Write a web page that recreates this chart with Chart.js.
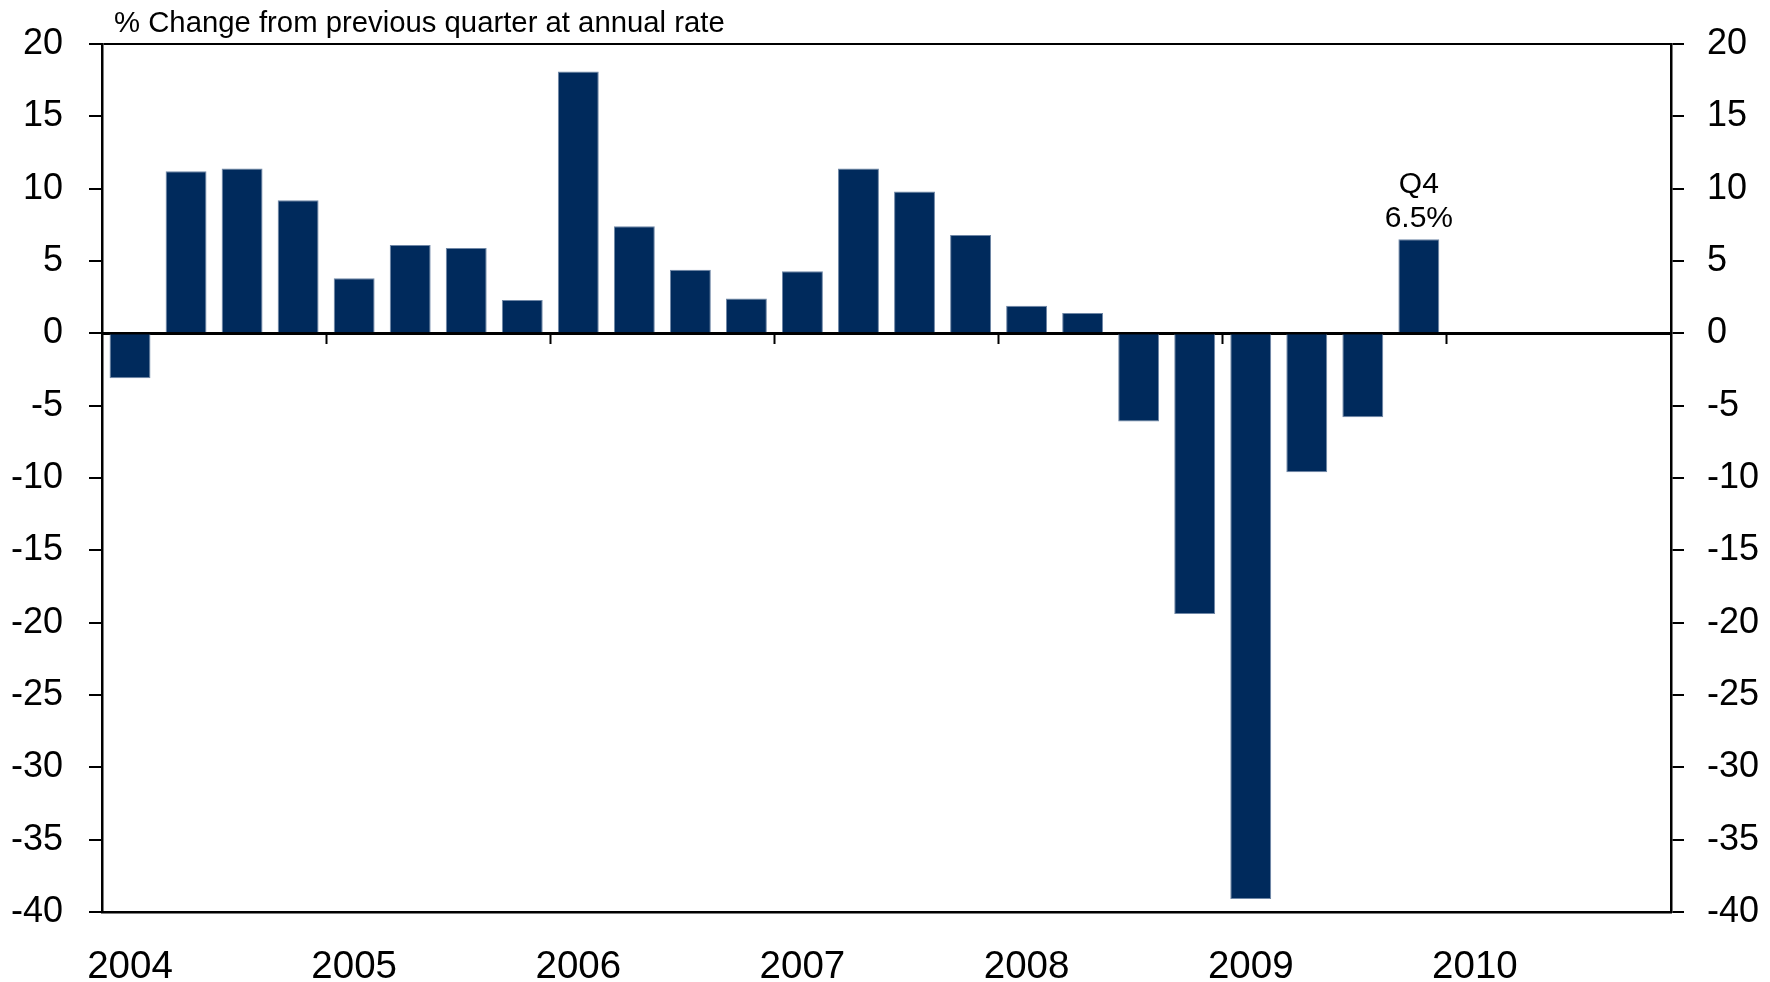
<!DOCTYPE html>
<html lang="en">
<head>
<meta charset="UTF-8">
<title>Quarterly % change</title>
<style>
    html, body { margin: 0; padding: 0; background: #fff; }
    #wrap { width: 1770px; height: 982px; position: relative; }
</style>
</head>
<body>

<div id="wrap">
    <canvas id="chart" width="1770" height="982"></canvas>
</div>

<script src="https://cdn.jsdelivr.net/npm/chart.js"></script>

<script>
    // data
    const years = ['2004', '2005', '2006', '2007', '2008', '2009', '2010'];
    const quarters = ['Q1', 'Q2', 'Q3', 'Q4'];
    const changes = [
        -3.1, 11.2, 11.4, 9.2,
        3.8, 6.1, 5.9, 2.3,
        18.1, 7.4, 4.4, 2.4,
        4.3, 11.4, 9.8, 6.8,
        1.9, 1.4, -6.1, -19.4,
        -39.1, -9.6, -5.8, 6.5
    ];
    const yTicks = [20, 15, 10, 5, 0, -5, -10, -15, -20, -25, -30, -35, -40];
    const titleText = '% Change from previous quarter at annual rate';
    const noteLines = ['Q4', '6.5%'];

    const categories = [];
    years.forEach(y => quarters.forEach(q => categories.push(y + ' ' + q)));
    // the axis runs to the end of 2010, no data there yet
    const values = categories.map((c, i) => i < changes.length ? changes[i] : null);

    const font = "'Liberation Sans', Arial, sans-serif";
    const navy = '#002a5c';
    const clear = 'rgba(0,0,0,0)';

    const textPlugin = {
        id: 'textPlugin',
        afterDatasetsDraw(chart) {
            const ctx = chart.ctx;
            const area = chart.chartArea;
            ctx.save();
            ctx.fillStyle = '#000';
            ctx.font = '29.3px ' + font;
            ctx.textAlign = 'left';
            ctx.textBaseline = 'alphabetic';
            ctx.fillText(titleText, area.left + 12, 32);

            // label above the latest bar
            const meta = chart.getDatasetMeta(0);
            const last = changes.length - 1;
            const bar = meta.data[last];
            ctx.font = '30px ' + font;
            ctx.textAlign = 'center';
            ctx.fillText(noteLines[0], bar.x, bar.y - 46);
            ctx.fillText(noteLines[1], bar.x, bar.y - 12);
            ctx.restore();
        }
    };

    function yAxis(side, width, pad) {
        return {
            type: 'linear',
            position: side,
            min: -40,
            max: 20,
            afterBuildTicks: s => { s.ticks = yTicks.map(v => ({ value: v })); },
            afterFit: s => {
                s.width = width;
                // label padding should not push the plot area down
                s.paddingTop = 0;
                s.paddingBottom = 0;
            },
            ticks: {
                color: '#000',
                padding: pad,
                font: { family: font, size: 36 }
            },
            grid: {
                drawOnChartArea: side === 'left',
                color: c => (c.tick && c.tick.value === 20) ? '#000' : clear,
                lineWidth: 2,
                tickColor: '#000',
                tickWidth: 2,
                tickLength: 13
            },
            border: { display: true, color: '#000', width: 2.5 }
        };
    }

    new Chart(document.getElementById('chart'), {
        type: 'bar',
        data: {
            labels: categories,
            datasets: [{
                data: values,
                xAxisID: 'x',
                yAxisID: 'y',
                backgroundColor: navy,
                borderColor: '#6f87a6',
                borderWidth: 1,
                barPercentage: 0.73,
                categoryPercentage: 1
            }]
        },
        options: {
            responsive: false,
            animation: false,
            layout: { padding: { top: 44, left: 0, right: 0, bottom: 0 } },
            plugins: {
                legend: { display: false },
                tooltip: { enabled: false }
            },
            scales: {
                x: {
                    type: 'category',
                    position: 'bottom',
                    afterFit: s => { s.height = 70; },
                    ticks: {
                        color: '#000',
                        autoSkip: false,
                        maxRotation: 0,
                        padding: 24,
                        font: { family: font, size: 38.5 },
                        callback: (v, i) => i % 4 === 0 ? years[i / 4] : ''
                    },
                    grid: { display: false },
                    border: { display: true, color: '#000', width: 2.5 }
                },
                // zero line with the year ticks hanging below it
                xZero: {
                    type: 'category',
                    axis: 'x',
                    position: { y: 0 },
                    ticks: { display: false },
                    grid: {
                        offset: true,
                        drawOnChartArea: false,
                        tickLength: 9,
                        tickWidth: 2,
                        tickColor: c => (c.index % 4 === 0 && c.index > 0) ? '#000' : clear
                    },
                    border: { display: true, color: '#000', width: 3 }
                },
                y: yAxis('left', 102, 26),
                y2: yAxis('right', 99, 23)
            }
        },
        plugins: [textPlugin]
    });
</script>

</body>
</html>
